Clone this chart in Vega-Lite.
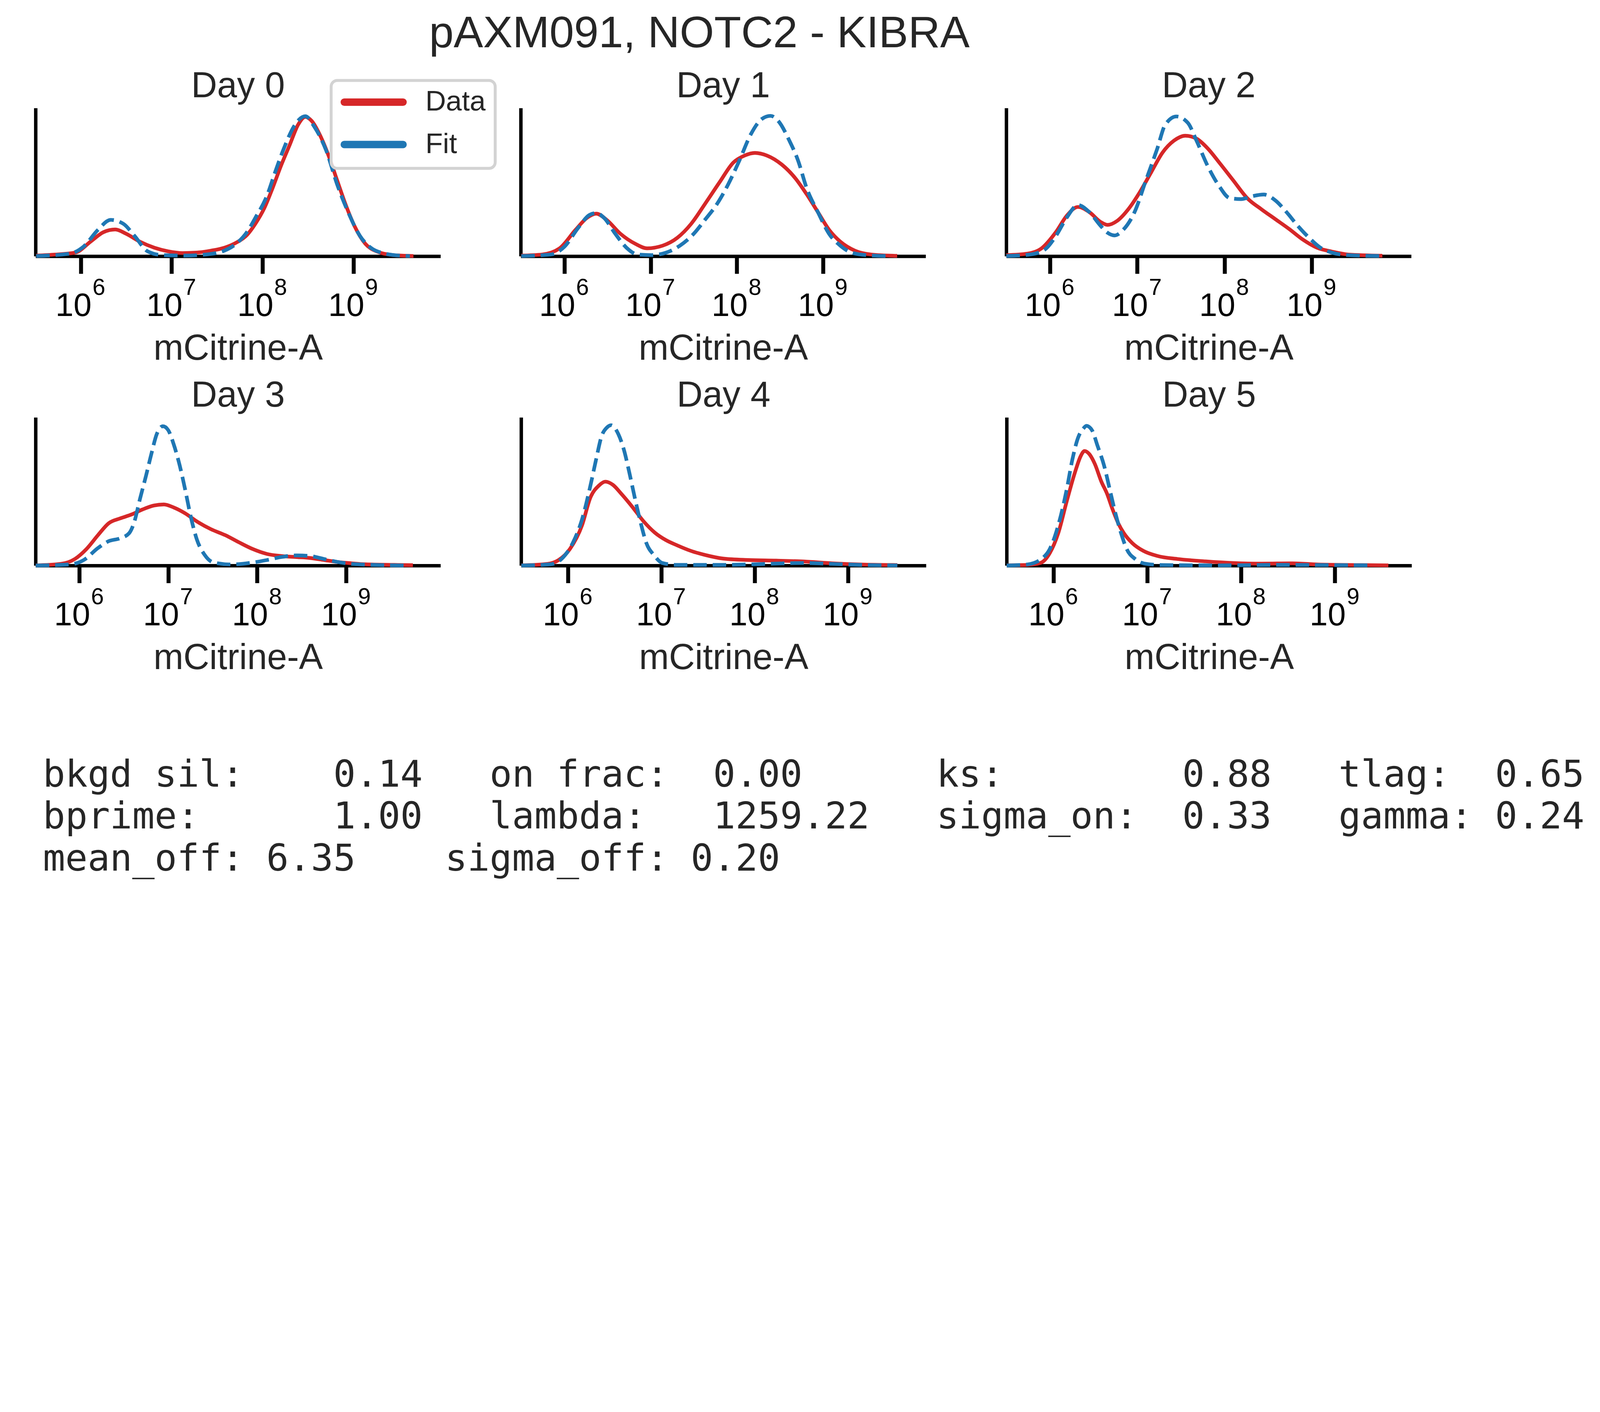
{
  "$schema": "https://vega.github.io/schema/vega-lite/v6.json",
  "background": "white",
  "padding": {"left": 72, "top": 29.5, "right": 0, "bottom": 70},
  "title": {
    "text": "pAXM091, NOTC2 - KIBRA",
    "fontSize": 113.2,
    "offset": 30.8,
    "dx": -274,
    "anchor": "middle"
  },
  "datasets": {
    "curves": [
      {"day": 0, "series": "Data", "lx": 5.51, "v": 0.004},
      {"day": 0, "series": "Data", "lx": 5.72, "v": 0.011},
      {"day": 0, "series": "Data", "lx": 5.94, "v": 0.024},
      {"day": 0, "series": "Data", "lx": 6.12, "v": 0.104},
      {"day": 0, "series": "Data", "lx": 6.25, "v": 0.162},
      {"day": 0, "series": "Data", "lx": 6.38, "v": 0.18},
      {"day": 0, "series": "Data", "lx": 6.5, "v": 0.151},
      {"day": 0, "series": "Data", "lx": 6.65, "v": 0.098},
      {"day": 0, "series": "Data", "lx": 6.81, "v": 0.057},
      {"day": 0, "series": "Data", "lx": 6.96, "v": 0.033},
      {"day": 0, "series": "Data", "lx": 7.12, "v": 0.021},
      {"day": 0, "series": "Data", "lx": 7.27, "v": 0.024},
      {"day": 0, "series": "Data", "lx": 7.43, "v": 0.037},
      {"day": 0, "series": "Data", "lx": 7.58, "v": 0.057},
      {"day": 0, "series": "Data", "lx": 7.71, "v": 0.091},
      {"day": 0, "series": "Data", "lx": 7.83, "v": 0.144},
      {"day": 0, "series": "Data", "lx": 7.92, "v": 0.218},
      {"day": 0, "series": "Data", "lx": 8.02, "v": 0.325},
      {"day": 0, "series": "Data", "lx": 8.11, "v": 0.459},
      {"day": 0, "series": "Data", "lx": 8.2, "v": 0.606},
      {"day": 0, "series": "Data", "lx": 8.3, "v": 0.753},
      {"day": 0, "series": "Data", "lx": 8.39, "v": 0.886},
      {"day": 0, "series": "Data", "lx": 8.47, "v": 0.94},
      {"day": 0, "series": "Data", "lx": 8.54, "v": 0.913},
      {"day": 0, "series": "Data", "lx": 8.64, "v": 0.806},
      {"day": 0, "series": "Data", "lx": 8.73, "v": 0.672},
      {"day": 0, "series": "Data", "lx": 8.82, "v": 0.512},
      {"day": 0, "series": "Data", "lx": 8.92, "v": 0.338},
      {"day": 0, "series": "Data", "lx": 9.01, "v": 0.205},
      {"day": 0, "series": "Data", "lx": 9.13, "v": 0.084},
      {"day": 0, "series": "Data", "lx": 9.26, "v": 0.031},
      {"day": 0, "series": "Data", "lx": 9.44, "v": 0.007},
      {"day": 0, "series": "Data", "lx": 9.66, "v": 0.001},
      {"day": 0, "series": "Fit", "lx": 5.51, "v": 0.001},
      {"day": 0, "series": "Fit", "lx": 5.88, "v": 0.017},
      {"day": 0, "series": "Fit", "lx": 6.03, "v": 0.064},
      {"day": 0, "series": "Fit", "lx": 6.19, "v": 0.178},
      {"day": 0, "series": "Fit", "lx": 6.33, "v": 0.245},
      {"day": 0, "series": "Fit", "lx": 6.47, "v": 0.218},
      {"day": 0, "series": "Fit", "lx": 6.59, "v": 0.138},
      {"day": 0, "series": "Fit", "lx": 6.74, "v": 0.031},
      {"day": 0, "series": "Fit", "lx": 6.9, "v": 0.007},
      {"day": 0, "series": "Fit", "lx": 7.15, "v": 0.004},
      {"day": 0, "series": "Fit", "lx": 7.43, "v": 0.015},
      {"day": 0, "series": "Fit", "lx": 7.58, "v": 0.037},
      {"day": 0, "series": "Fit", "lx": 7.71, "v": 0.084},
      {"day": 0, "series": "Fit", "lx": 7.83, "v": 0.164},
      {"day": 0, "series": "Fit", "lx": 7.92, "v": 0.258},
      {"day": 0, "series": "Fit", "lx": 8.05, "v": 0.41},
      {"day": 0, "series": "Fit", "lx": 8.14, "v": 0.57},
      {"day": 0, "series": "Fit", "lx": 8.23, "v": 0.72},
      {"day": 0, "series": "Fit", "lx": 8.36, "v": 0.89},
      {"day": 0, "series": "Fit", "lx": 8.47, "v": 0.945},
      {"day": 0, "series": "Fit", "lx": 8.57, "v": 0.873},
      {"day": 0, "series": "Fit", "lx": 8.7, "v": 0.713},
      {"day": 0, "series": "Fit", "lx": 8.82, "v": 0.485},
      {"day": 0, "series": "Fit", "lx": 8.95, "v": 0.285},
      {"day": 0, "series": "Fit", "lx": 9.07, "v": 0.138},
      {"day": 0, "series": "Fit", "lx": 9.19, "v": 0.057},
      {"day": 0, "series": "Fit", "lx": 9.35, "v": 0.017},
      {"day": 0, "series": "Fit", "lx": 9.5, "v": 0.004},
      {"day": 0, "series": "Fit", "lx": 9.62, "v": 0.001},
      {"day": 1, "series": "Data", "lx": 5.5, "v": 0.004},
      {"day": 1, "series": "Data", "lx": 5.74, "v": 0.011},
      {"day": 1, "series": "Data", "lx": 5.94, "v": 0.051},
      {"day": 1, "series": "Data", "lx": 6.13, "v": 0.178},
      {"day": 1, "series": "Data", "lx": 6.26, "v": 0.258},
      {"day": 1, "series": "Data", "lx": 6.37, "v": 0.287},
      {"day": 1, "series": "Data", "lx": 6.49, "v": 0.245},
      {"day": 1, "series": "Data", "lx": 6.65, "v": 0.151},
      {"day": 1, "series": "Data", "lx": 6.82, "v": 0.084},
      {"day": 1, "series": "Data", "lx": 6.96, "v": 0.053},
      {"day": 1, "series": "Data", "lx": 7.14, "v": 0.071},
      {"day": 1, "series": "Data", "lx": 7.31, "v": 0.124},
      {"day": 1, "series": "Data", "lx": 7.47, "v": 0.218},
      {"day": 1, "series": "Data", "lx": 7.63, "v": 0.352},
      {"day": 1, "series": "Data", "lx": 7.8, "v": 0.499},
      {"day": 1, "series": "Data", "lx": 7.96, "v": 0.632},
      {"day": 1, "series": "Data", "lx": 8.09, "v": 0.679},
      {"day": 1, "series": "Data", "lx": 8.21, "v": 0.697},
      {"day": 1, "series": "Data", "lx": 8.35, "v": 0.679},
      {"day": 1, "series": "Data", "lx": 8.52, "v": 0.619},
      {"day": 1, "series": "Data", "lx": 8.68, "v": 0.525},
      {"day": 1, "series": "Data", "lx": 8.81, "v": 0.418},
      {"day": 1, "series": "Data", "lx": 8.94, "v": 0.298},
      {"day": 1, "series": "Data", "lx": 9.07, "v": 0.178},
      {"day": 1, "series": "Data", "lx": 9.2, "v": 0.098},
      {"day": 1, "series": "Data", "lx": 9.37, "v": 0.037},
      {"day": 1, "series": "Data", "lx": 9.56, "v": 0.011},
      {"day": 1, "series": "Data", "lx": 9.86, "v": 0.002},
      {"day": 1, "series": "Fit", "lx": 5.5, "v": 0.001},
      {"day": 1, "series": "Fit", "lx": 5.84, "v": 0.011},
      {"day": 1, "series": "Fit", "lx": 6.0, "v": 0.064},
      {"day": 1, "series": "Fit", "lx": 6.16, "v": 0.191},
      {"day": 1, "series": "Fit", "lx": 6.29, "v": 0.278},
      {"day": 1, "series": "Fit", "lx": 6.37, "v": 0.291},
      {"day": 1, "series": "Fit", "lx": 6.46, "v": 0.258},
      {"day": 1, "series": "Fit", "lx": 6.59, "v": 0.151},
      {"day": 1, "series": "Fit", "lx": 6.72, "v": 0.057},
      {"day": 1, "series": "Fit", "lx": 6.85, "v": 0.011},
      {"day": 1, "series": "Fit", "lx": 7.01, "v": 0.007},
      {"day": 1, "series": "Fit", "lx": 7.18, "v": 0.024},
      {"day": 1, "series": "Fit", "lx": 7.34, "v": 0.071},
      {"day": 1, "series": "Fit", "lx": 7.5, "v": 0.151},
      {"day": 1, "series": "Fit", "lx": 7.63, "v": 0.245},
      {"day": 1, "series": "Fit", "lx": 7.77, "v": 0.352},
      {"day": 1, "series": "Fit", "lx": 7.9, "v": 0.485},
      {"day": 1, "series": "Fit", "lx": 8.03, "v": 0.646},
      {"day": 1, "series": "Fit", "lx": 8.16, "v": 0.82},
      {"day": 1, "series": "Fit", "lx": 8.29, "v": 0.926},
      {"day": 1, "series": "Fit", "lx": 8.39, "v": 0.947},
      {"day": 1, "series": "Fit", "lx": 8.48, "v": 0.913},
      {"day": 1, "series": "Fit", "lx": 8.61, "v": 0.779},
      {"day": 1, "series": "Fit", "lx": 8.71, "v": 0.646},
      {"day": 1, "series": "Fit", "lx": 8.81, "v": 0.459},
      {"day": 1, "series": "Fit", "lx": 8.94, "v": 0.298},
      {"day": 1, "series": "Fit", "lx": 9.07, "v": 0.151},
      {"day": 1, "series": "Fit", "lx": 9.2, "v": 0.071},
      {"day": 1, "series": "Fit", "lx": 9.33, "v": 0.024},
      {"day": 1, "series": "Fit", "lx": 9.5, "v": 0.007},
      {"day": 1, "series": "Fit", "lx": 9.76, "v": 0.001},
      {"day": 2, "series": "Data", "lx": 5.5, "v": 0.007},
      {"day": 2, "series": "Data", "lx": 5.74, "v": 0.017},
      {"day": 2, "series": "Data", "lx": 5.9, "v": 0.051},
      {"day": 2, "series": "Data", "lx": 6.07, "v": 0.164},
      {"day": 2, "series": "Data", "lx": 6.19, "v": 0.271},
      {"day": 2, "series": "Data", "lx": 6.32, "v": 0.332},
      {"day": 2, "series": "Data", "lx": 6.45, "v": 0.298},
      {"day": 2, "series": "Data", "lx": 6.58, "v": 0.231},
      {"day": 2, "series": "Data", "lx": 6.66, "v": 0.211},
      {"day": 2, "series": "Data", "lx": 6.77, "v": 0.238},
      {"day": 2, "series": "Data", "lx": 6.9, "v": 0.318},
      {"day": 2, "series": "Data", "lx": 7.03, "v": 0.432},
      {"day": 2, "series": "Data", "lx": 7.16, "v": 0.566},
      {"day": 2, "series": "Data", "lx": 7.29, "v": 0.699},
      {"day": 2, "series": "Data", "lx": 7.42, "v": 0.779},
      {"day": 2, "series": "Data", "lx": 7.55, "v": 0.813},
      {"day": 2, "series": "Data", "lx": 7.68, "v": 0.793},
      {"day": 2, "series": "Data", "lx": 7.81, "v": 0.726},
      {"day": 2, "series": "Data", "lx": 7.94, "v": 0.632},
      {"day": 2, "series": "Data", "lx": 8.1, "v": 0.512},
      {"day": 2, "series": "Data", "lx": 8.26, "v": 0.392},
      {"day": 2, "series": "Data", "lx": 8.42, "v": 0.318},
      {"day": 2, "series": "Data", "lx": 8.58, "v": 0.251},
      {"day": 2, "series": "Data", "lx": 8.74, "v": 0.184},
      {"day": 2, "series": "Data", "lx": 8.9, "v": 0.111},
      {"day": 2, "series": "Data", "lx": 9.06, "v": 0.057},
      {"day": 2, "series": "Data", "lx": 9.23, "v": 0.031},
      {"day": 2, "series": "Data", "lx": 9.42, "v": 0.011},
      {"day": 2, "series": "Data", "lx": 9.81, "v": 0.003},
      {"day": 2, "series": "Fit", "lx": 5.5, "v": 0.001},
      {"day": 2, "series": "Fit", "lx": 5.77, "v": 0.011},
      {"day": 2, "series": "Fit", "lx": 5.94, "v": 0.044},
      {"day": 2, "series": "Fit", "lx": 6.07, "v": 0.138},
      {"day": 2, "series": "Fit", "lx": 6.19, "v": 0.258},
      {"day": 2, "series": "Fit", "lx": 6.32, "v": 0.345},
      {"day": 2, "series": "Fit", "lx": 6.45, "v": 0.298},
      {"day": 2, "series": "Fit", "lx": 6.58, "v": 0.205},
      {"day": 2, "series": "Fit", "lx": 6.66, "v": 0.158},
      {"day": 2, "series": "Fit", "lx": 6.74, "v": 0.14},
      {"day": 2, "series": "Fit", "lx": 6.84, "v": 0.178},
      {"day": 2, "series": "Fit", "lx": 6.97, "v": 0.298},
      {"day": 2, "series": "Fit", "lx": 7.1, "v": 0.512},
      {"day": 2, "series": "Fit", "lx": 7.23, "v": 0.726},
      {"day": 2, "series": "Fit", "lx": 7.32, "v": 0.886},
      {"day": 2, "series": "Fit", "lx": 7.45, "v": 0.943},
      {"day": 2, "series": "Fit", "lx": 7.58, "v": 0.9},
      {"day": 2, "series": "Fit", "lx": 7.68, "v": 0.779},
      {"day": 2, "series": "Fit", "lx": 7.81, "v": 0.606},
      {"day": 2, "series": "Fit", "lx": 7.94, "v": 0.472},
      {"day": 2, "series": "Fit", "lx": 8.06, "v": 0.392},
      {"day": 2, "series": "Fit", "lx": 8.19, "v": 0.385},
      {"day": 2, "series": "Fit", "lx": 8.32, "v": 0.405},
      {"day": 2, "series": "Fit", "lx": 8.45, "v": 0.416},
      {"day": 2, "series": "Fit", "lx": 8.58, "v": 0.378},
      {"day": 2, "series": "Fit", "lx": 8.71, "v": 0.298},
      {"day": 2, "series": "Fit", "lx": 8.84, "v": 0.205},
      {"day": 2, "series": "Fit", "lx": 8.97, "v": 0.124},
      {"day": 2, "series": "Fit", "lx": 9.1, "v": 0.057},
      {"day": 2, "series": "Fit", "lx": 9.23, "v": 0.024},
      {"day": 2, "series": "Fit", "lx": 9.42, "v": 0.007},
      {"day": 2, "series": "Fit", "lx": 9.81, "v": 0.001},
      {"day": 3, "series": "Data", "lx": 5.51, "v": 0.001},
      {"day": 3, "series": "Data", "lx": 5.79, "v": 0.011},
      {"day": 3, "series": "Data", "lx": 5.95, "v": 0.044},
      {"day": 3, "series": "Data", "lx": 6.08, "v": 0.111},
      {"day": 3, "series": "Data", "lx": 6.21, "v": 0.205},
      {"day": 3, "series": "Data", "lx": 6.33, "v": 0.285},
      {"day": 3, "series": "Data", "lx": 6.46, "v": 0.318},
      {"day": 3, "series": "Data", "lx": 6.59, "v": 0.345},
      {"day": 3, "series": "Data", "lx": 6.71, "v": 0.378},
      {"day": 3, "series": "Data", "lx": 6.84, "v": 0.405},
      {"day": 3, "series": "Data", "lx": 6.95, "v": 0.412},
      {"day": 3, "series": "Data", "lx": 7.06, "v": 0.392},
      {"day": 3, "series": "Data", "lx": 7.19, "v": 0.352},
      {"day": 3, "series": "Data", "lx": 7.32, "v": 0.298},
      {"day": 3, "series": "Data", "lx": 7.48, "v": 0.245},
      {"day": 3, "series": "Data", "lx": 7.64, "v": 0.205},
      {"day": 3, "series": "Data", "lx": 7.79, "v": 0.158},
      {"day": 3, "series": "Data", "lx": 7.95, "v": 0.111},
      {"day": 3, "series": "Data", "lx": 8.11, "v": 0.078},
      {"day": 3, "series": "Data", "lx": 8.27, "v": 0.064},
      {"day": 3, "series": "Data", "lx": 8.43, "v": 0.057},
      {"day": 3, "series": "Data", "lx": 8.59, "v": 0.051},
      {"day": 3, "series": "Data", "lx": 8.75, "v": 0.037},
      {"day": 3, "series": "Data", "lx": 8.9, "v": 0.024},
      {"day": 3, "series": "Data", "lx": 9.06, "v": 0.015},
      {"day": 3, "series": "Data", "lx": 9.22, "v": 0.008},
      {"day": 3, "series": "Data", "lx": 9.54, "v": 0.004},
      {"day": 3, "series": "Data", "lx": 9.75, "v": 0.002},
      {"day": 3, "series": "Fit", "lx": 5.51, "v": 0.0},
      {"day": 3, "series": "Fit", "lx": 5.89, "v": 0.007},
      {"day": 3, "series": "Fit", "lx": 6.05, "v": 0.037},
      {"day": 3, "series": "Fit", "lx": 6.21, "v": 0.118},
      {"day": 3, "series": "Fit", "lx": 6.33, "v": 0.164},
      {"day": 3, "series": "Fit", "lx": 6.46, "v": 0.184},
      {"day": 3, "series": "Fit", "lx": 6.56, "v": 0.218},
      {"day": 3, "series": "Fit", "lx": 6.62, "v": 0.298},
      {"day": 3, "series": "Fit", "lx": 6.68, "v": 0.445},
      {"day": 3, "series": "Fit", "lx": 6.75, "v": 0.606},
      {"day": 3, "series": "Fit", "lx": 6.81, "v": 0.753},
      {"day": 3, "series": "Fit", "lx": 6.87, "v": 0.886},
      {"day": 3, "series": "Fit", "lx": 6.94, "v": 0.94},
      {"day": 3, "series": "Fit", "lx": 7.0, "v": 0.913},
      {"day": 3, "series": "Fit", "lx": 7.06, "v": 0.82},
      {"day": 3, "series": "Fit", "lx": 7.13, "v": 0.672},
      {"day": 3, "series": "Fit", "lx": 7.19, "v": 0.512},
      {"day": 3, "series": "Fit", "lx": 7.25, "v": 0.338},
      {"day": 3, "series": "Fit", "lx": 7.32, "v": 0.178},
      {"day": 3, "series": "Fit", "lx": 7.41, "v": 0.071},
      {"day": 3, "series": "Fit", "lx": 7.51, "v": 0.02},
      {"day": 3, "series": "Fit", "lx": 7.7, "v": 0.007},
      {"day": 3, "series": "Fit", "lx": 7.95, "v": 0.02},
      {"day": 3, "series": "Fit", "lx": 8.11, "v": 0.037},
      {"day": 3, "series": "Fit", "lx": 8.27, "v": 0.057},
      {"day": 3, "series": "Fit", "lx": 8.43, "v": 0.068},
      {"day": 3, "series": "Fit", "lx": 8.59, "v": 0.064},
      {"day": 3, "series": "Fit", "lx": 8.75, "v": 0.044},
      {"day": 3, "series": "Fit", "lx": 8.9, "v": 0.024},
      {"day": 3, "series": "Fit", "lx": 9.06, "v": 0.011},
      {"day": 3, "series": "Fit", "lx": 9.38, "v": 0.003},
      {"day": 3, "series": "Fit", "lx": 9.7, "v": 0.0},
      {"day": 4, "series": "Data", "lx": 5.5, "v": 0.001},
      {"day": 4, "series": "Data", "lx": 5.78, "v": 0.011},
      {"day": 4, "series": "Data", "lx": 5.9, "v": 0.037},
      {"day": 4, "series": "Data", "lx": 6.02, "v": 0.111},
      {"day": 4, "series": "Data", "lx": 6.15, "v": 0.271},
      {"day": 4, "series": "Data", "lx": 6.24, "v": 0.459},
      {"day": 4, "series": "Data", "lx": 6.33, "v": 0.539},
      {"day": 4, "series": "Data", "lx": 6.4, "v": 0.566},
      {"day": 4, "series": "Data", "lx": 6.48, "v": 0.545},
      {"day": 4, "series": "Data", "lx": 6.57, "v": 0.485},
      {"day": 4, "series": "Data", "lx": 6.69, "v": 0.395},
      {"day": 4, "series": "Data", "lx": 6.81, "v": 0.298},
      {"day": 4, "series": "Data", "lx": 6.93, "v": 0.222},
      {"day": 4, "series": "Data", "lx": 7.05, "v": 0.171},
      {"day": 4, "series": "Data", "lx": 7.17, "v": 0.136},
      {"day": 4, "series": "Data", "lx": 7.32, "v": 0.098},
      {"day": 4, "series": "Data", "lx": 7.47, "v": 0.071},
      {"day": 4, "series": "Data", "lx": 7.66, "v": 0.047},
      {"day": 4, "series": "Data", "lx": 7.93, "v": 0.037},
      {"day": 4, "series": "Data", "lx": 8.23, "v": 0.033},
      {"day": 4, "series": "Data", "lx": 8.53, "v": 0.027},
      {"day": 4, "series": "Data", "lx": 8.83, "v": 0.015},
      {"day": 4, "series": "Data", "lx": 9.14, "v": 0.007},
      {"day": 4, "series": "Data", "lx": 9.53, "v": 0.003},
      {"day": 4, "series": "Fit", "lx": 5.5, "v": 0.0},
      {"day": 4, "series": "Fit", "lx": 5.81, "v": 0.008},
      {"day": 4, "series": "Fit", "lx": 5.93, "v": 0.044},
      {"day": 4, "series": "Fit", "lx": 6.05, "v": 0.151},
      {"day": 4, "series": "Fit", "lx": 6.15, "v": 0.311},
      {"day": 4, "series": "Fit", "lx": 6.24, "v": 0.539},
      {"day": 4, "series": "Fit", "lx": 6.3, "v": 0.713},
      {"day": 4, "series": "Fit", "lx": 6.36, "v": 0.873},
      {"day": 4, "series": "Fit", "lx": 6.42, "v": 0.933},
      {"day": 4, "series": "Fit", "lx": 6.46, "v": 0.947},
      {"day": 4, "series": "Fit", "lx": 6.54, "v": 0.886},
      {"day": 4, "series": "Fit", "lx": 6.6, "v": 0.779},
      {"day": 4, "series": "Fit", "lx": 6.66, "v": 0.619},
      {"day": 4, "series": "Fit", "lx": 6.72, "v": 0.445},
      {"day": 4, "series": "Fit", "lx": 6.78, "v": 0.285},
      {"day": 4, "series": "Fit", "lx": 6.84, "v": 0.151},
      {"day": 4, "series": "Fit", "lx": 6.92, "v": 0.071},
      {"day": 4, "series": "Fit", "lx": 7.01, "v": 0.017},
      {"day": 4, "series": "Fit", "lx": 7.17, "v": 0.004},
      {"day": 4, "series": "Fit", "lx": 7.63, "v": 0.004},
      {"day": 4, "series": "Fit", "lx": 7.93, "v": 0.007},
      {"day": 4, "series": "Fit", "lx": 8.23, "v": 0.013},
      {"day": 4, "series": "Fit", "lx": 8.53, "v": 0.017},
      {"day": 4, "series": "Fit", "lx": 8.83, "v": 0.011},
      {"day": 4, "series": "Fit", "lx": 9.14, "v": 0.004},
      {"day": 4, "series": "Fit", "lx": 9.53, "v": 0.001},
      {"day": 5, "series": "Data", "lx": 5.5, "v": 0.001},
      {"day": 5, "series": "Data", "lx": 5.72, "v": 0.004},
      {"day": 5, "series": "Data", "lx": 5.86, "v": 0.017},
      {"day": 5, "series": "Data", "lx": 5.96, "v": 0.084},
      {"day": 5, "series": "Data", "lx": 6.05, "v": 0.218},
      {"day": 5, "series": "Data", "lx": 6.14, "v": 0.432},
      {"day": 5, "series": "Data", "lx": 6.23, "v": 0.632},
      {"day": 5, "series": "Data", "lx": 6.29, "v": 0.739},
      {"day": 5, "series": "Data", "lx": 6.33, "v": 0.773},
      {"day": 5, "series": "Data", "lx": 6.38, "v": 0.753},
      {"day": 5, "series": "Data", "lx": 6.44, "v": 0.686},
      {"day": 5, "series": "Data", "lx": 6.51, "v": 0.566},
      {"day": 5, "series": "Data", "lx": 6.57, "v": 0.485},
      {"day": 5, "series": "Data", "lx": 6.63, "v": 0.378},
      {"day": 5, "series": "Data", "lx": 6.69, "v": 0.285},
      {"day": 5, "series": "Data", "lx": 6.75, "v": 0.218},
      {"day": 5, "series": "Data", "lx": 6.84, "v": 0.151},
      {"day": 5, "series": "Data", "lx": 6.96, "v": 0.098},
      {"day": 5, "series": "Data", "lx": 7.11, "v": 0.064},
      {"day": 5, "series": "Data", "lx": 7.32, "v": 0.044},
      {"day": 5, "series": "Data", "lx": 7.62, "v": 0.028},
      {"day": 5, "series": "Data", "lx": 7.92, "v": 0.017},
      {"day": 5, "series": "Data", "lx": 8.22, "v": 0.013},
      {"day": 5, "series": "Data", "lx": 8.55, "v": 0.015},
      {"day": 5, "series": "Data", "lx": 8.82, "v": 0.007},
      {"day": 5, "series": "Data", "lx": 9.27, "v": 0.003},
      {"day": 5, "series": "Data", "lx": 9.57, "v": 0.001},
      {"day": 5, "series": "Fit", "lx": 5.5, "v": 0.0},
      {"day": 5, "series": "Fit", "lx": 5.72, "v": 0.007},
      {"day": 5, "series": "Fit", "lx": 5.87, "v": 0.044},
      {"day": 5, "series": "Fit", "lx": 5.96, "v": 0.111},
      {"day": 5, "series": "Fit", "lx": 6.05, "v": 0.271},
      {"day": 5, "series": "Fit", "lx": 6.14, "v": 0.512},
      {"day": 5, "series": "Fit", "lx": 6.2, "v": 0.713},
      {"day": 5, "series": "Fit", "lx": 6.26, "v": 0.86},
      {"day": 5, "series": "Fit", "lx": 6.32, "v": 0.926},
      {"day": 5, "series": "Fit", "lx": 6.35, "v": 0.943},
      {"day": 5, "series": "Fit", "lx": 6.41, "v": 0.913},
      {"day": 5, "series": "Fit", "lx": 6.47, "v": 0.806},
      {"day": 5, "series": "Fit", "lx": 6.54, "v": 0.672},
      {"day": 5, "series": "Fit", "lx": 6.6, "v": 0.512},
      {"day": 5, "series": "Fit", "lx": 6.66, "v": 0.352},
      {"day": 5, "series": "Fit", "lx": 6.72, "v": 0.218},
      {"day": 5, "series": "Fit", "lx": 6.78, "v": 0.111},
      {"day": 5, "series": "Fit", "lx": 6.87, "v": 0.044},
      {"day": 5, "series": "Fit", "lx": 6.99, "v": 0.011},
      {"day": 5, "series": "Fit", "lx": 7.17, "v": 0.003},
      {"day": 5, "series": "Fit", "lx": 7.77, "v": 0.001},
      {"day": 5, "series": "Fit", "lx": 8.37, "v": 0.004},
      {"day": 5, "series": "Fit", "lx": 8.97, "v": 0.003},
      {"day": 5, "series": "Fit", "lx": 9.4, "v": 0.001}
    ],
    "stats": [
      {"row": 1, "col": 0, "text": "bkgd sil:"},
      {"row": 1, "col": 13, "text": "0.14"},
      {"row": 1, "col": 20, "text": "on frac:"},
      {"row": 1, "col": 30, "text": "0.00"},
      {"row": 1, "col": 40, "text": "ks:"},
      {"row": 1, "col": 51, "text": "0.88"},
      {"row": 1, "col": 58, "text": "tlag:"},
      {"row": 1, "col": 65, "text": "0.65"},
      {"row": 2, "col": 0, "text": "bprime:"},
      {"row": 2, "col": 13, "text": "1.00"},
      {"row": 2, "col": 20, "text": "lambda:"},
      {"row": 2, "col": 30, "text": "1259.22"},
      {"row": 2, "col": 40, "text": "sigma_on:"},
      {"row": 2, "col": 51, "text": "0.33"},
      {"row": 2, "col": 58, "text": "gamma:"},
      {"row": 2, "col": 65, "text": "0.24"},
      {"row": 3, "col": 0, "text": "mean_off:"},
      {"row": 3, "col": 10, "text": "6.35"},
      {"row": 3, "col": 18, "text": "sigma_off:"},
      {"row": 3, "col": 29, "text": "0.20"}
    ]
  },
  "vconcat": [
    {
      "vconcat": [
        {
          "hconcat": [
            {
              "title": "Day 0",
              "width": 1036.6, "height": 379.3,
              "data": {"name": "curves"},
              "transform": [{"filter": "datum.day == 0"}],
              "layer": [
                {
                  "transform": [{"filter": "datum.series == 'Data'"}],
                  "mark": {"type": "line", "strokeWidth": 9.4, "interpolate": "monotone"},
                  "encoding": {
                    "x": {"field": "lx", "type": "quantitative", "scale": {"domain": [5.503, 9.957], "nice": false, "zero": false},
                      "axis": {"orient": "bottom", "values": [6, 7, 8, 9], "labelExpr": "'10'", "labelFontSize": 83, "labelOffset": -18.9, "labelPadding": 42.1, "tickSize": 44.7, "tickWidth": 10.1, "domainWidth": 8.8, "title": "mCitrine-A", "titleFontSize": 91.8, "titlePadding": 21.7}},
                    "y": {"field": "v", "type": "quantitative", "scale": {"domain": [0, 1], "nice": false},
                      "axis": {"labels": false, "ticks": false, "title": null, "domainWidth": 8.8, "minExtent": 0}},
                    "color": {"field": "series", "type": "nominal", "scale": {"domain": ["Data", "Fit"], "range": ["#d62728", "#1f77b4"]},
                      "legend": {"title": null, "encode": {"symbols": {"update": {"strokeCap": {"value": "round"}, "strokeDash": {"value": []}}}}}}
                  }
                },
                {
                  "transform": [{"filter": "datum.series == 'Fit'"}],
                  "mark": {"type": "line", "strokeWidth": 9.4, "strokeDash": [34.6, 15.1], "interpolate": "monotone"},
                  "encoding": {
                    "x": {"field": "lx", "type": "quantitative",
                      "axis": {"orient": "bottom", "values": [6, 7, 8, 9], "format": "d", "labelFontSize": 59.1, "labelOffset": 45.9, "labelPadding": 51.6, "ticks": false, "domain": false, "title": null}},
                    "y": {"field": "v", "type": "quantitative"},
                    "color": {"field": "series", "type": "nominal"}
                  }
                }
              ],
              "resolve": {"axis": {"x": "independent"}}
            },
            {
              "title": "Day 1",
              "width": 1036.6, "height": 379.3,
              "data": {"name": "curves"},
              "transform": [{"filter": "datum.day == 1"}],
              "layer": [
                {
                  "transform": [{"filter": "datum.series == 'Data'"}],
                  "mark": {"type": "line", "strokeWidth": 9.4, "interpolate": "monotone"},
                  "encoding": {
                    "x": {"field": "lx", "type": "quantitative", "scale": {"domain": [5.493, 10.19], "nice": false, "zero": false},
                      "axis": {"orient": "bottom", "values": [6, 7, 8, 9], "labelExpr": "'10'", "labelFontSize": 83, "labelOffset": -18.9, "labelPadding": 42.1, "tickSize": 44.7, "tickWidth": 10.1, "domainWidth": 8.8, "title": "mCitrine-A", "titleFontSize": 91.8, "titlePadding": 21.7}},
                    "y": {"field": "v", "type": "quantitative", "scale": {"domain": [0, 1], "nice": false},
                      "axis": {"labels": false, "ticks": false, "title": null, "domainWidth": 8.8, "minExtent": 0}},
                    "color": {"field": "series", "type": "nominal", "legend": {"title": null}}
                  }
                },
                {
                  "transform": [{"filter": "datum.series == 'Fit'"}],
                  "mark": {"type": "line", "strokeWidth": 9.4, "strokeDash": [34.6, 15.1], "interpolate": "monotone"},
                  "encoding": {
                    "x": {"field": "lx", "type": "quantitative",
                      "axis": {"orient": "bottom", "values": [6, 7, 8, 9], "format": "d", "labelFontSize": 59.1, "labelOffset": 45.9, "labelPadding": 51.6, "ticks": false, "domain": false, "title": null}},
                    "y": {"field": "v", "type": "quantitative"},
                    "color": {"field": "series", "type": "nominal"}
                  }
                }
              ],
              "resolve": {"axis": {"x": "independent"}}
            },
            {
              "title": "Day 2",
              "width": 1036.6, "height": 379.3,
              "data": {"name": "curves"},
              "transform": [{"filter": "datum.day == 2"}],
              "layer": [
                {
                  "transform": [{"filter": "datum.series == 'Data'"}],
                  "mark": {"type": "line", "strokeWidth": 9.4, "interpolate": "monotone"},
                  "encoding": {
                    "x": {"field": "lx", "type": "quantitative", "scale": {"domain": [5.499, 10.14], "nice": false, "zero": false},
                      "axis": {"orient": "bottom", "values": [6, 7, 8, 9], "labelExpr": "'10'", "labelFontSize": 83, "labelOffset": -18.9, "labelPadding": 42.1, "tickSize": 44.7, "tickWidth": 10.1, "domainWidth": 8.8, "title": "mCitrine-A", "titleFontSize": 91.8, "titlePadding": 21.7}},
                    "y": {"field": "v", "type": "quantitative", "scale": {"domain": [0, 1], "nice": false},
                      "axis": {"labels": false, "ticks": false, "title": null, "domainWidth": 8.8, "minExtent": 0}},
                    "color": {"field": "series", "type": "nominal", "legend": {"title": null}}
                  }
                },
                {
                  "transform": [{"filter": "datum.series == 'Fit'"}],
                  "mark": {"type": "line", "strokeWidth": 9.4, "strokeDash": [34.6, 15.1], "interpolate": "monotone"},
                  "encoding": {
                    "x": {"field": "lx", "type": "quantitative",
                      "axis": {"orient": "bottom", "values": [6, 7, 8, 9], "format": "d", "labelFontSize": 59.1, "labelOffset": 45.9, "labelPadding": 51.6, "ticks": false, "domain": false, "title": null}},
                    "y": {"field": "v", "type": "quantitative"},
                    "color": {"field": "series", "type": "nominal"}
                  }
                }
              ],
              "resolve": {"axis": {"x": "independent"}}
            }
          ],
          "spacing": 187
        },
        {
          "hconcat": [
            {
              "title": "Day 3",
              "width": 1036.6, "height": 379.3,
              "data": {"name": "curves"},
              "transform": [{"filter": "datum.day == 3"}],
              "layer": [
                {
                  "transform": [{"filter": "datum.series == 'Data'"}],
                  "mark": {"type": "line", "strokeWidth": 9.4, "interpolate": "monotone"},
                  "encoding": {
                    "x": {"field": "lx", "type": "quantitative", "scale": {"domain": [5.508, 10.06], "nice": false, "zero": false},
                      "axis": {"orient": "bottom", "values": [6, 7, 8, 9], "labelExpr": "'10'", "labelFontSize": 83, "labelOffset": -18.9, "labelPadding": 42.1, "tickSize": 44.7, "tickWidth": 10.1, "domainWidth": 8.8, "title": "mCitrine-A", "titleFontSize": 91.8, "titlePadding": 21.7}},
                    "y": {"field": "v", "type": "quantitative", "scale": {"domain": [0, 1], "nice": false},
                      "axis": {"labels": false, "ticks": false, "title": null, "domainWidth": 8.8, "minExtent": 0}},
                    "color": {"field": "series", "type": "nominal", "legend": {"title": null}}
                  }
                },
                {
                  "transform": [{"filter": "datum.series == 'Fit'"}],
                  "mark": {"type": "line", "strokeWidth": 9.4, "strokeDash": [34.6, 15.1], "interpolate": "monotone"},
                  "encoding": {
                    "x": {"field": "lx", "type": "quantitative",
                      "axis": {"orient": "bottom", "values": [6, 7, 8, 9], "format": "d", "labelFontSize": 59.1, "labelOffset": 45.9, "labelPadding": 51.6, "ticks": false, "domain": false, "title": null}},
                    "y": {"field": "v", "type": "quantitative"},
                    "color": {"field": "series", "type": "nominal"}
                  }
                }
              ],
              "resolve": {"axis": {"x": "independent"}}
            },
            {
              "title": "Day 4",
              "width": 1036.6, "height": 379.3,
              "data": {"name": "curves"},
              "transform": [{"filter": "datum.day == 4"}],
              "layer": [
                {
                  "transform": [{"filter": "datum.series == 'Data'"}],
                  "mark": {"type": "line", "strokeWidth": 9.4, "interpolate": "monotone"},
                  "encoding": {
                    "x": {"field": "lx", "type": "quantitative", "scale": {"domain": [5.497, 9.837], "nice": false, "zero": false},
                      "axis": {"orient": "bottom", "values": [6, 7, 8, 9], "labelExpr": "'10'", "labelFontSize": 83, "labelOffset": -18.9, "labelPadding": 42.1, "tickSize": 44.7, "tickWidth": 10.1, "domainWidth": 8.8, "title": "mCitrine-A", "titleFontSize": 91.8, "titlePadding": 21.7}},
                    "y": {"field": "v", "type": "quantitative", "scale": {"domain": [0, 1], "nice": false},
                      "axis": {"labels": false, "ticks": false, "title": null, "domainWidth": 8.8, "minExtent": 0}},
                    "color": {"field": "series", "type": "nominal", "legend": {"title": null}}
                  }
                },
                {
                  "transform": [{"filter": "datum.series == 'Fit'"}],
                  "mark": {"type": "line", "strokeWidth": 9.4, "strokeDash": [34.6, 15.1], "interpolate": "monotone"},
                  "encoding": {
                    "x": {"field": "lx", "type": "quantitative",
                      "axis": {"orient": "bottom", "values": [6, 7, 8, 9], "format": "d", "labelFontSize": 59.1, "labelOffset": 45.9, "labelPadding": 51.6, "ticks": false, "domain": false, "title": null}},
                    "y": {"field": "v", "type": "quantitative"},
                    "color": {"field": "series", "type": "nominal"}
                  }
                }
              ],
              "resolve": {"axis": {"x": "independent"}}
            },
            {
              "title": "Day 5",
              "width": 1036.6, "height": 379.3,
              "data": {"name": "curves"},
              "transform": [{"filter": "datum.day == 5"}],
              "layer": [
                {
                  "transform": [{"filter": "datum.series == 'Data'"}],
                  "mark": {"type": "line", "strokeWidth": 9.4, "interpolate": "monotone"},
                  "encoding": {
                    "x": {"field": "lx", "type": "quantitative", "scale": {"domain": [5.5, 9.817], "nice": false, "zero": false},
                      "axis": {"orient": "bottom", "values": [6, 7, 8, 9], "labelExpr": "'10'", "labelFontSize": 83, "labelOffset": -18.9, "labelPadding": 42.1, "tickSize": 44.7, "tickWidth": 10.1, "domainWidth": 8.8, "title": "mCitrine-A", "titleFontSize": 91.8, "titlePadding": 21.7}},
                    "y": {"field": "v", "type": "quantitative", "scale": {"domain": [0, 1], "nice": false},
                      "axis": {"labels": false, "ticks": false, "title": null, "domainWidth": 8.8, "minExtent": 0}},
                    "color": {"field": "series", "type": "nominal", "legend": {"title": null}}
                  }
                },
                {
                  "transform": [{"filter": "datum.series == 'Fit'"}],
                  "mark": {"type": "line", "strokeWidth": 9.4, "strokeDash": [34.6, 15.1], "interpolate": "monotone"},
                  "encoding": {
                    "x": {"field": "lx", "type": "quantitative",
                      "axis": {"orient": "bottom", "values": [6, 7, 8, 9], "format": "d", "labelFontSize": 59.1, "labelOffset": 45.9, "labelPadding": 51.6, "ticks": false, "domain": false, "title": null}},
                    "y": {"field": "v", "type": "quantitative"},
                    "color": {"field": "series", "type": "nominal"}
                  }
                }
              ],
              "resolve": {"axis": {"x": "independent"}}
            }
          ],
          "spacing": 187
        }
      ],
      "spacing": 28
    },
    {
      "width": 3937.5,
      "height": 215.7,
      "data": {"name": "stats"},
      "mark": {"type": "text", "font": "DejaVu Sans Mono", "fontSize": 95, "align": "left", "baseline": "alphabetic", "color": "#262626"},
      "encoding": {
        "x": {"field": "col", "type": "quantitative", "scale": {"domain": [-0.328, 68.52], "nice": false, "zero": false}, "axis": null},
        "y": {"field": "row", "type": "quantitative", "scale": {"domain": [1, 3], "reverse": true, "nice": false, "zero": false}, "axis": null},
        "text": {"field": "text"}
      }
    }
  ],
  "spacing": 206,
  "config": {
    "view": {"stroke": null},
    "font": "Liberation Sans",
    "title": {"font": "Liberation Sans", "fontSize": 91.8, "fontWeight": "normal", "color": "#262626", "baseline": "alphabetic", "offset": 8.8, "anchor": "middle"},
    "axis": {
      "grid": false,
      "labelFont": "Liberation Sans",
      "titleFont": "Liberation Sans",
      "labelColor": "black",
      "titleColor": "#262626",
      "titleFontWeight": "normal",
      "domainColor": "black",
      "tickColor": "black",
      "labelOverlap": false,
      "labelFlush": false
    },
    "legend": {
      "orient": "none",
      "legendX": 756.7,
      "legendY": -70.4,
      "labelFont": "Liberation Sans",
      "labelFontSize": 73,
      "labelColor": "#262626",
      "labelLimit": 0,
      "symbolType": "stroke",
      "symbolSize": 22650,
      "symbolStrokeWidth": 18.9,
      "clipHeight": 62.9,
      "rowPadding": 34.6,
      "labelOffset": 47.3,
      "padding": 23.9,
      "strokeColor": "#d3d3d3",
      "strokeWidth": 7.5,
      "fillColor": "rgba(255,255,255,0.8)",
      "cornerRadius": 15.7
    }
  }
}
